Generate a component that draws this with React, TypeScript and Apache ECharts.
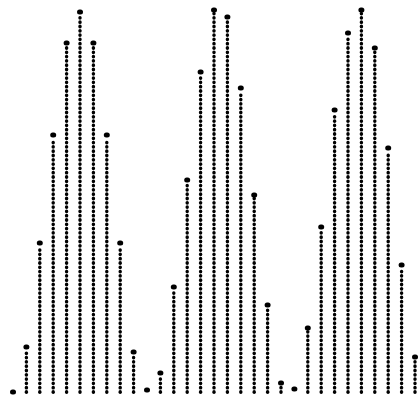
import React, { useEffect, useRef } from "react";
import * as echarts from "echarts";

// column index (left to right) and column heights
const columns = [
  0, 1, 2, 3, 4, 5, 6, 7, 8, 9, 10, 11, 12, 13, 14, 15, 16, 17, 18, 19, 20, 21,
  22, 23, 24, 25, 26, 27, 28, 29, 30,
];
const heights = [
  0, 45, 149, 257, 349, 380, 349, 257, 149, 40, 2, 19, 105, 212, 320, 382, 375,
  304, 197, 87, 9, 3, 64, 165, 282, 359, 382, 344, 244, 127, 35,
];

const DOT_GAP = 4.3;

export default function App() {
  const ref = useRef<HTMLDivElement>(null);
  useEffect(() => {
    if (!ref.current) return;
    const chart = echarts.init(ref.current, null, { renderer: "svg" });
    const data = columns.map((c, i) => [c, heights[i]]);
    chart.setOption({
      animation: false,
      backgroundColor: "#ffffff",
      grid: { left: 13, right: 3, top: 0, bottom: 9 },
      xAxis: { type: "value", min: 0, max: 30, show: false },
      yAxis: { type: "value", min: 0, max: 392, show: false },
      series: [
        {
          type: "custom",
          clip: false,
          data,
          renderItem: (params: any, api: any) => {
            const x = api.value(0);
            const v = api.value(1);
            const base = api.coord([x, 0]);
            const top = api.coord([x, v]);
            const children: any[] = [];
            const cx = base[0];
            for (let y = base[1]; y > top[1] + DOT_GAP * 0.8; y -= DOT_GAP) {
              children.push({
                type: "rect",
                shape: { x: cx - 1.7, y: y - 1.9, width: 3.4, height: 3.8, r: 1.7 },
                style: { fill: "#000" },
              });
            }
            children.push({
              type: "rect",
              shape: { x: cx - 3, y: top[1] - 2.5, width: 6, height: 5, r: 2.5 },
              style: { fill: "#000" },
            });
            return { type: "group", children };
          },
        },
      ],
    });
    return () => chart.dispose();
  }, []);
  return (
    <div
      ref={ref}
      style={{ position: "absolute", left: 0, top: 0, width: 418, height: 401 }}
    />
  );
}
